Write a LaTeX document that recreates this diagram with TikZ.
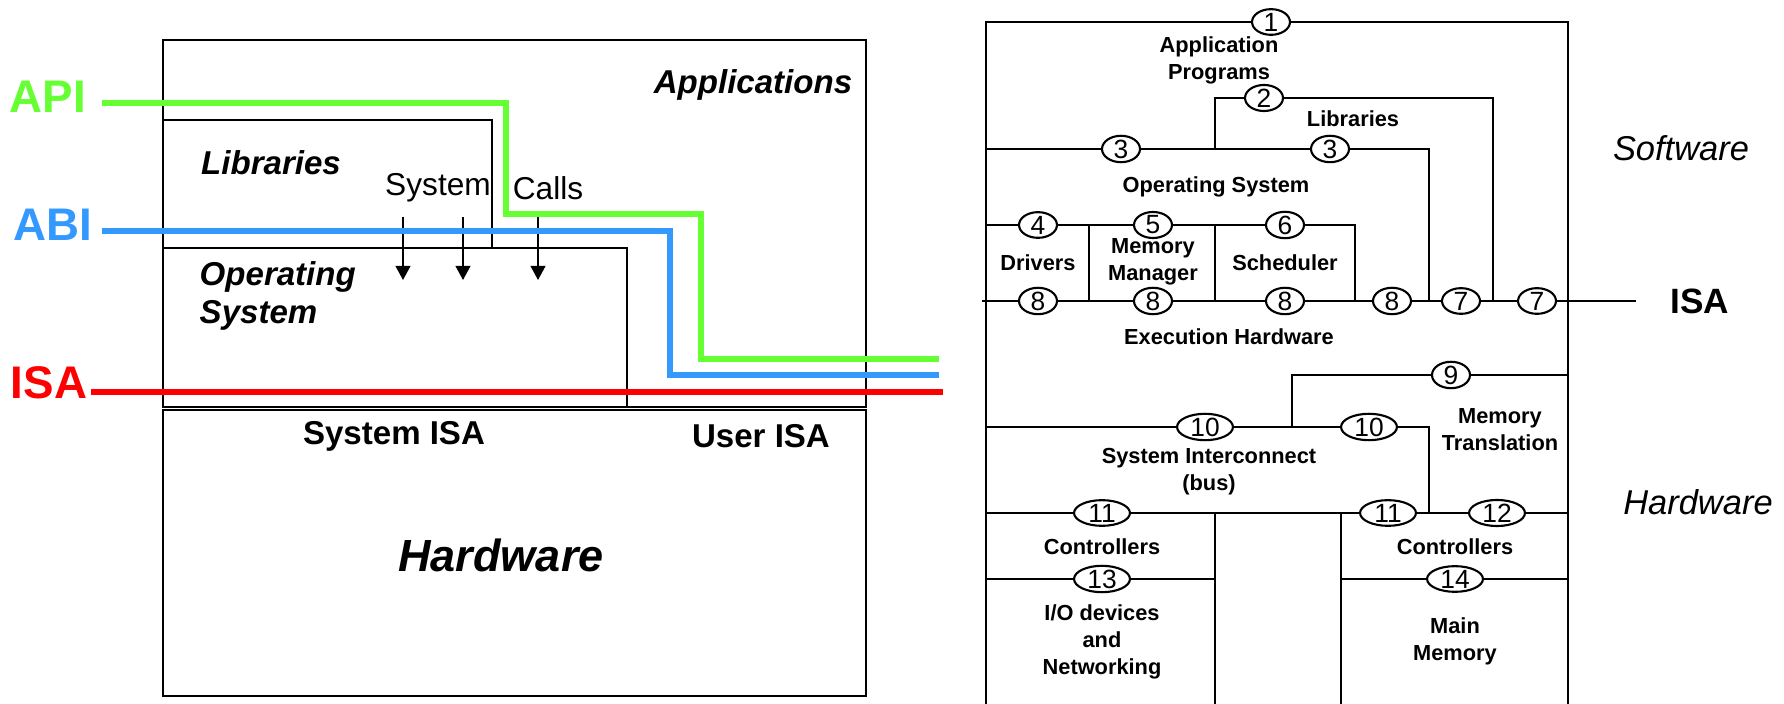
\documentclass[tikz,border=0pt]{standalone}
\usepackage{fontspec}
\setmainfont{Liberation Sans}
\usetikzlibrary{calc,arrows.meta,positioning,shapes.geometric}

\definecolor{apigreen}{RGB}{102,255,51}
\definecolor{abiblue}{RGB}{51,153,255}
\definecolor{isared}{RGB}{255,0,0}

\begin{document}
\begin{tikzpicture}[
		x=0.01cm, y=-0.01cm,
		box/.style={draw, line width=0.7pt},
		layername/.style={font=\fontsize{9.4}{10.8}\selectfont\bfseries\itshape, inner sep=0pt},
		isaname/.style={font=\fontsize{9.4}{10}\selectfont\bfseries, inner sep=0pt},
		syscall/.style={font=\fontsize{9}{10}\selectfont, inner sep=0pt},
		iftag/.style={font=\fontsize{13}{15}\selectfont\bfseries, inner sep=0pt},
		ifline/.style={line width=1.85pt},
		callarrow/.style={-{Triangle[length=4pt,width=4.2pt]}, line width=0.5pt},
		wire/.style={draw, line width=0.6pt},
		partname/.style={font=\fontsize{6.2}{7.7}\selectfont\bfseries, align=center, inner sep=0pt},
		seam/.style={ellipse, draw, fill=white, line width=0.6pt, inner sep=0pt, minimum width=10.8pt, minimum height=6.5pt, font=\fontsize{7.5}{8}\selectfont},
		wideseam/.style={seam, minimum width=15.9pt},
		sidename/.style={font=\fontsize{9.8}{11}\selectfont\itshape, inner sep=0pt}
	]
	\useasboundingbox (0,0) rectangle (1784,704);

	% Left: software layers and the three interfaces
	\draw[box] (163,40) rectangle (866,407);
	\draw[box] (163,120) rectangle (492,248);
	\draw[box] (163,248) rectangle (627,407);
	\draw[box] (163,410) rectangle (866,696);

	\node[layername] (apps) at (753,85) {Applications};
	\node[layername] (libs) at (271,163) {Libraries};
	\node[layername, align=left, anchor=west] (os) at (199,296) {Operating\\System};
	\node[syscall] (sys) at (438,188) {System};
	\node[syscall] (calls) at (548,188) {Calls};

	\coordinate (call1) at (403,217);
	\coordinate (call2) at (463,217);
	\coordinate (call3) at (538,217);
	\coordinate (os1) at (403,280);
	\coordinate (os2) at (463,280);
	\coordinate (os3) at (538,280);
	\draw[callarrow] (call1) -- (os1);
	\draw[callarrow] (call2) -- (os2);
	\draw[callarrow] (call3) -- (os3);

	\node[iftag, text=apigreen] (api) at (48,97) {API};
	\node[iftag, text=abiblue] (abi) at (53,225) {ABI};
	\node[iftag, text=isared] (isa) at (49,383) {ISA};
	\coordinate (apiend) at (939,359);
	\coordinate (abiend) at (939,375);
	\coordinate (isaend) at (943,392);
	\draw[ifline, apigreen] ($(api.east -| 102,0)+(0,6)$) -| (506,214) -| (701,359) -- (apiend);
	\draw[ifline, abiblue] ($(abi.east -| 102,0)+(0,6)$) -| (670,375) -- (abiend);
	\draw[ifline, isared] ($(isa.east -| 91,0)+(0,9)$) -- (isaend);

	\node[isaname] (sysisa) at (394,436) {System ISA};
	\node[isaname] (userisa) at (761,436) {User ISA};
	\node[layername, font=\fontsize{12.8}{14}\selectfont\bfseries\itshape] (hw) at (501,555) {Hardware};

	% Right: components and their interfaces
	\draw[wire] (986,704) -- (986,22) -- (1568,22) -- (1568,704);
	\draw[wire] (1215,149) |- (1493,98) -- (1493,301);
	\draw[wire] (986,149) -- (1429,149) -- (1429,301);
	\draw[wire] (986,225) -- (1355,225) -- (1355,301);
	\draw[wire] (1089,225) -- (1089,301);
	\draw[wire] (1215,225) -- (1215,301);
	\draw[wire] (1292,427) |- (1568,375);
	\draw[wire] (986,427) -- (1429,427) -- (1429,513);
	\draw[wire] (986,513) -- (1568,513);
	\draw[wire] (1215,513) -- (1215,704);
	\draw[wire] (1341,513) -- (1341,704);
	\draw[wire] (986,579) -- (1215,579);
	\draw[wire] (1341,579) -- (1568,579);

	\node[sidename, font=\fontsize{10}{12}\selectfont\bfseries] (isaside) at (1700,301) {ISA};
	\draw[wire] (982,301) -- ($(isaside.west)+(-34,0)$);

	\node[partname] (appprog) at (1219,60) {Application\\Programs};
	\node[partname] (liblabel) at (1353,119) {Libraries};
	\node[partname] (oslabel) at (1216,187) {Operating System};
	\node[partname] (drivers) at (1038,263) {Drivers};
	\node[partname] (memman) at (1153,262) {Memory\\Manager};
	\node[partname] (sched) at (1285,263) {Scheduler};
	\node[partname] (exec) at (1229,337) {Execution Hardware};
	\node[partname] (memtrans) at (1500,430) {Memory\\Translation};
	\node[partname] (bus) at (1209,472) {System Interconnect\\(bus)};
	\node[partname] (ioctrl) at (1102,547) {Controllers};
	\node[partname] (memctrl) at (1455,547) {Controllers};
	\node[partname] (iodev) at (1102,642) {I/O devices\\and\\Networking};
	\node[partname] (mainmem) at (1455,641) {Main\\Memory};

	\node[sidename] (software) at (1681,148) {Software};
	\node[sidename] (hardware) at (1698,502) {Hardware};

	\node[seam] (s1) at (1271,22) {1};
	\node[seam] (s2) at (1264,98) {2};
	\node[seam] (s3a) at (1121,149) {3};
	\node[seam] (s3b) at (1330,149) {3};
	\node[seam] (s4) at (1038,225) {4};
	\node[seam] (s5) at (1153,225) {5};
	\node[seam] (s6) at (1285,225) {6};
	\node[seam] (s8a) at (1038,301) {8};
	\node[seam] (s8b) at (1153,301) {8};
	\node[seam] (s8c) at (1285,301) {8};
	\node[seam] (s8d) at (1392,301) {8};
	\node[seam] (s7a) at (1461,301) {7};
	\node[seam] (s7b) at (1537,301) {7};
	\node[seam] (s9) at (1451,375) {9};
	\node[wideseam] (s10a) at (1205,427) {10};
	\node[wideseam] (s10b) at (1369,427) {10};
	\node[wideseam] (s11a) at (1102,513) {11};
	\node[wideseam] (s11b) at (1388,513) {11};
	\node[wideseam] (s12) at (1497,513) {12};
	\node[wideseam] (s13) at (1102,579) {13};
	\node[wideseam] (s14) at (1455,579) {14};
\end{tikzpicture}
\end{document}
